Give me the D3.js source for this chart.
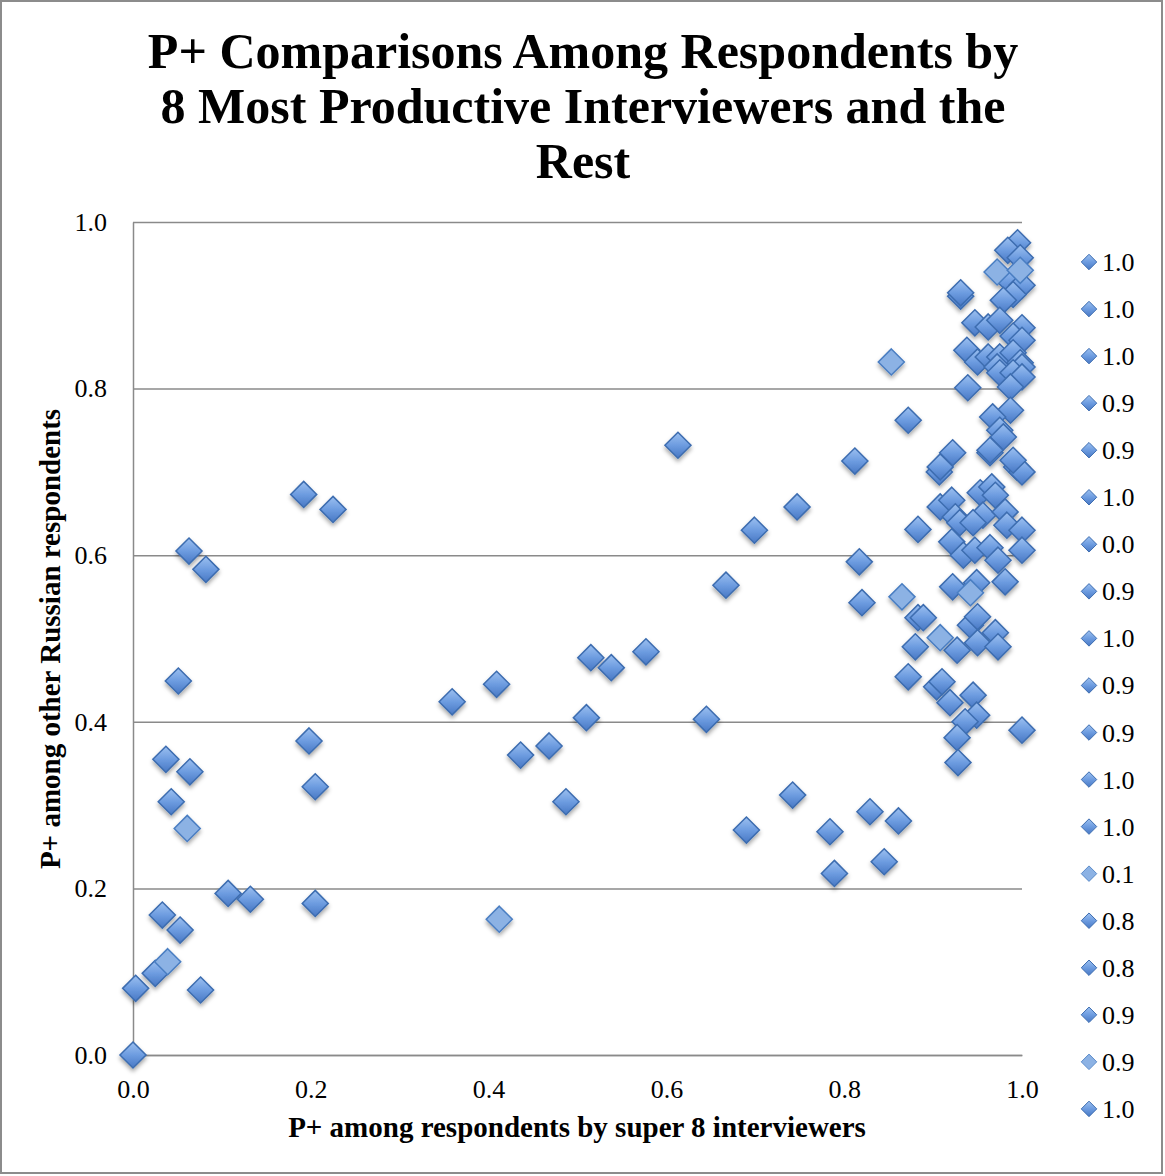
<!DOCTYPE html>
<html>
<head>
<meta charset="utf-8">
<script src="https://cdn.jsdelivr.net/npm/d3@7"></script>
<style>
  body { margin: 0; background: #fff; }
  svg { display: block; }
</style>
</head>
<body>
<svg id="chart" width="1165" height="1176"></svg>
<script>
// [x = P+ among super 8 respondents, y = P+ among other respondents]
var mainPoints = [
  [0.000, 0.000], [0.003, 0.080], [0.025, 0.098], [0.033, 0.168], [0.053, 0.150],
  [0.076, 0.078], [0.107, 0.194], [0.132, 0.187], [0.205, 0.182], [0.037, 0.355],
  [0.043, 0.304], [0.064, 0.340], [0.051, 0.449], [0.063, 0.605], [0.082, 0.583],
  [0.192, 0.673], [0.225, 0.655], [0.198, 0.377], [0.205, 0.322],
  [0.359, 0.424], [0.409, 0.445], [0.436, 0.360], [0.468, 0.371], [0.487, 0.304],
  [0.515, 0.477], [0.538, 0.465], [0.577, 0.484], [0.510, 0.405], [0.613, 0.732],
  [0.645, 0.403], [0.667, 0.564], [0.699, 0.630], [0.747, 0.658], [0.690, 0.270],
  [0.742, 0.312], [0.784, 0.268], [0.789, 0.218], [0.812, 0.713], [0.817, 0.592],
  [0.820, 0.543], [0.829, 0.292], [0.861, 0.281], [0.845, 0.232], [0.872, 0.762],
  [0.922, 0.723], [0.907, 0.700], [0.964, 0.723], [0.994, 0.706], [1.000, 0.700],
  [0.883, 0.631], [0.908, 0.658], [0.921, 0.666], [0.925, 0.646], [0.930, 0.639],
  [0.953, 0.675], [0.966, 0.682], [0.970, 0.672], [0.956, 0.648], [0.945, 0.639],
  [0.981, 0.652], [0.983, 0.636], [1.000, 0.630], [1.000, 0.606], [0.921, 0.616],
  [0.934, 0.600], [0.947, 0.606], [0.964, 0.609], [0.973, 0.594], [0.922, 0.562],
  [0.949, 0.567], [0.981, 0.568], [0.883, 0.525], [0.889, 0.525], [0.880, 0.490],
  [0.927, 0.486], [0.942, 0.516], [0.950, 0.526], [0.970, 0.507], [0.950, 0.495],
  [0.973, 0.490], [0.872, 0.454], [0.904, 0.442], [0.910, 0.448], [0.919, 0.423],
  [0.945, 0.432], [0.949, 0.408], [0.936, 0.400], [1.000, 0.390], [0.927, 0.381],
  [0.928, 0.351],
  [0.995, 0.975], [0.984, 0.966], [0.998, 0.957], [0.987, 0.928], [1.000, 0.924],
  [0.990, 0.913], [0.979, 0.906], [0.931, 0.911], [0.931, 0.915], [0.947, 0.879],
  [0.962, 0.874], [0.975, 0.882], [1.000, 0.873], [0.990, 0.863], [1.000, 0.858],
  [0.938, 0.846], [0.950, 0.832], [0.962, 0.838], [0.975, 0.838], [0.972, 0.826],
  [0.990, 0.843], [0.998, 0.831], [1.000, 0.826], [0.975, 0.819], [0.990, 0.819],
  [1.000, 0.814], [0.987, 0.802], [0.939, 0.801], [0.987, 0.774], [0.967, 0.766],
  [0.975, 0.750], [0.979, 0.742], [0.964, 0.726], [0.990, 0.714], [0.908, 0.706]
];
var lightPoints = [
  [0.039, 0.112], [0.061, 0.272], [0.412, 0.163], [0.853, 0.832], [0.865, 0.550],
  [0.908, 0.501], [0.942, 0.555], [0.972, 0.940], [0.998, 0.942]
];
var legendLabels = ["1.0", "1.0", "1.0", "0.9", "0.9", "1.0", "0.0", "0.9", "1.0", "0.9",
                    "0.9", "1.0", "1.0", "0.1", "0.8", "0.8", "0.9", "0.9", "1.0"];
var legendLight = [false, false, false, false, false, false, false, false, false, false,
                   false, false, false, true, false, false, false, true, false];
var tickValues = [0, 0.2, 0.4, 0.6, 0.8, 1.0];
var titleLines = ["P+ Comparisons Among Respondents by", "8 Most Productive Interviewers and the", "Rest"];

var svg = d3.select("#chart");
var serif = "'Liberation Serif', 'Times New Roman', serif";

var x = d3.scaleLinear().domain([0, 1]).range([133, 1022]);
var y = d3.scaleLinear().domain([0, 1]).range([1055, 222]);

// Excel-style diamond (a square turned 45 degrees)
var diamond = {
  draw: function(ctx, size) {
    var r = Math.sqrt(size / 2);
    ctx.moveTo(0, -r); ctx.lineTo(r, 0); ctx.lineTo(0, r); ctx.lineTo(-r, 0); ctx.closePath();
  }
};

var defs = svg.append("defs");
var grad = defs.append("linearGradient").attr("id", "mk").attr("x1", 0).attr("y1", 0).attr("x2", 0).attr("y2", 1);
grad.append("stop").attr("offset", "0%").attr("stop-color", "#9cc0f0");
grad.append("stop").attr("offset", "50%").attr("stop-color", "#6d9ce0");
grad.append("stop").attr("offset", "100%").attr("stop-color", "#4878c4");
var shadow = defs.append("filter").attr("id", "shadow").attr("x", "-50%").attr("y", "-50%").attr("width", "200%").attr("height", "200%");
shadow.append("feDropShadow").attr("dx", 0).attr("dy", 3).attr("stdDeviation", 2)
  .attr("flood-color", "#000").attr("flood-opacity", 0.35);

// outer frame
svg.append("rect").attr("x", 1).attr("y", 1).attr("width", 1161).attr("height", 1172)
  .attr("fill", "#fff").attr("stroke", "#8c8c8c").attr("stroke-width", 2);

// title
svg.append("g").selectAll("text").data(titleLines).enter().append("text")
  .attr("x", 583).attr("y", function(d, i) { return 68 + i * 55; })
  .attr("text-anchor", "middle").attr("font-family", serif).attr("font-weight", "bold")
  .attr("font-size", 50).attr("fill", "#000").text(function(d) { return d; });

// Y axis with gridlines
var yAxis = svg.append("g").attr("transform", "translate(133,0)")
  .call(d3.axisLeft(y).tickValues(tickValues).tickFormat(d3.format(".1f"))
    .tickSize(-(x(1) - x(0))).tickSizeOuter(0).tickPadding(26));
yAxis.selectAll("line").attr("stroke", "#8a8a8a").attr("stroke-width", 1.5);
yAxis.select(".domain").attr("stroke", "#8a8a8a").attr("stroke-width", 1.5);
yAxis.selectAll("text").attr("font-family", serif).attr("font-size", 26).attr("fill", "#000");

// X axis
var xAxis = svg.append("g").attr("transform", "translate(0,1055)")
  .call(d3.axisBottom(x).tickValues(tickValues).tickFormat(d3.format(".1f"))
    .tickSize(0).tickPadding(25));
xAxis.select(".domain").attr("stroke", "#8a8a8a").attr("stroke-width", 1.5);
xAxis.selectAll("text").attr("font-family", serif).attr("font-size", 26).attr("fill", "#000");

// axis titles
svg.append("text").attr("x", 577).attr("y", 1137).attr("text-anchor", "middle")
  .attr("font-family", serif).attr("font-weight", "bold").attr("font-size", 29)
  .text("P+ among respondents by super 8 interviewers");
svg.append("text").attr("transform", "translate(60,639) rotate(-90)").attr("text-anchor", "middle")
  .attr("font-family", serif).attr("font-weight", "bold").attr("font-size", 29)
  .text("P+ among other Russian respondents");

// points
var symbolBig = d3.symbol().type(diamond).size(340);
var pts = svg.append("g").attr("filter", "url(#shadow)");
pts.selectAll("path.main").data(mainPoints).enter().append("path").attr("class", "main")
  .attr("transform", function(d) { return "translate(" + x(d[0]) + "," + y(d[1]) + ")"; })
  .attr("d", symbolBig).attr("fill", "url(#mk)").attr("stroke", "#3d6db0").attr("stroke-width", 1.5);
pts.selectAll("path.light").data(lightPoints).enter().append("path").attr("class", "light")
  .attr("transform", function(d) { return "translate(" + x(d[0]) + "," + y(d[1]) + ")"; })
  .attr("d", symbolBig).attr("fill", "#8cb2e4").attr("stroke", "#4a7ec2").attr("stroke-width", 1.5);

// legend
var symbolSmall = d3.symbol().type(diamond).size(120);
var leg = svg.append("g").selectAll("g").data(legendLabels).enter().append("g")
  .attr("transform", function(d, i) { return "translate(1089," + (262 + i * 47.05) + ")"; });
leg.append("path").attr("d", symbolSmall)
  .attr("fill", function(d, i) { return legendLight[i] ? "#8cb2e4" : "url(#mk)"; })
  .attr("stroke", function(d, i) { return legendLight[i] ? "#5a8bca" : "#3d6db0"; })
  .attr("stroke-width", 1);
leg.append("text").attr("x", 13).attr("y", 9).attr("font-family", serif).attr("font-size", 26)
  .attr("fill", "#000").text(function(d) { return d; });
</script>
</body>
</html>
